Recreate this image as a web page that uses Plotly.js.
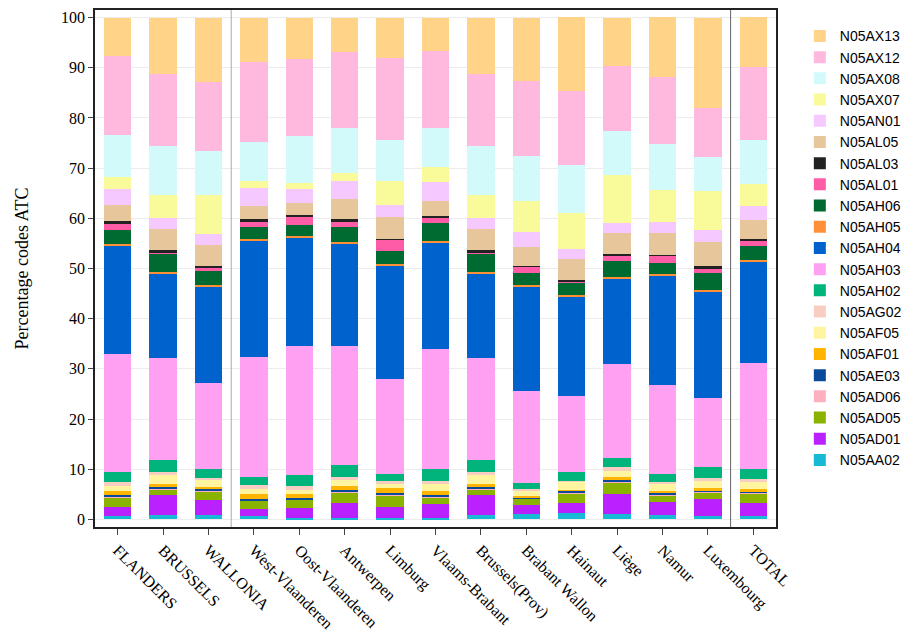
<!DOCTYPE html>
<html>
<head>
<meta charset="utf-8">
<script src="https://cdn.plot.ly/plotly-3.0.1.min.js"></script>
<style>body{margin:0;background:#fff}</style>
</head>
<body>
<div id="chart" style="width:917px;height:642px"></div>
<script>
var regions = ['FLANDERS','BRUSSELS','WALLONIA','West-Vlaanderen','Oost-Vlaanderen','Antwerpen','Limburg',
  'Vlaams-Brabant','Brussels(Prov)','Brabant Wallon','Hainaut','Liège','Namur','Luxembourg','TOTAL'];

// percentages per ATC code, bottom of the stack first
var N05AA02 = [0.6,0.8,0.9,0.6,0.3,0.3,0.3,0.3,0.8,1.0,1.2,1.0,0.8,0.6,0.6];
var N05AD01 = [1.9,4.0,2.9,1.4,2.0,3.0,2.2,2.8,4.0,1.8,2.0,4.0,2.6,3.4,2.6];
var N05AD05 = [1.8,1.2,1.8,1.7,1.6,2.1,2.3,1.3,1.2,1.3,2.0,2.4,1.4,1.4,2.0];
var N05AD06 = [0.1,0.1,0.1,0.1,0.1,0.1,0.2,0.1,0.1,0.1,0.1,0.1,0.1,0.1,0.1];
var N05AE03 = [0.4,0.3,0.4,0.2,0.2,0.3,0.3,0.4,0.3,0.2,0.4,0.3,0.3,0.2,0.2];
var N05AF01 = [0.8,0.6,0.4,1.0,0.8,0.8,1.0,0.7,0.6,0.3,0.2,0.6,0.5,0.6,0.6];
var N05AF05 = [1.0,1.8,1.4,1.0,0.8,1.2,0.8,1.4,1.8,1.1,1.6,1.2,1.4,1.4,1.4];
var N05AG02 = [0.8,0.6,0.4,0.8,0.8,0.6,0.6,0.6,0.6,0.3,0.2,0.8,0.4,0.6,0.6];
var N05AH02 = [2.0,2.4,1.8,1.6,2.2,2.4,1.4,2.4,2.4,1.2,1.8,1.8,1.6,2.2,2.0];
var N05AH03 = [23.5,20.4,17.0,24.0,25.7,23.7,18.8,24.0,20.4,18.3,15.1,18.7,17.6,13.7,21.0];
var N05AH04 = [21.6,16.7,19.3,23.1,21.5,20.4,22.5,21.1,16.7,20.8,19.7,17.1,21.8,21.1,20.2];
var N05AH05 = [0.4,0.4,0.4,0.4,0.4,0.4,0.4,0.4,0.4,0.4,0.4,0.4,0.4,0.4,0.4];
var N05AH06 = [2.7,3.7,2.8,2.3,2.3,3.0,2.6,3.5,3.7,2.4,2.4,3.1,2.2,3.5,2.7];
var N05AL01 = [1.45,0.25,0.6,1.25,1.65,1.15,2.3,1.15,0.25,1.1,0.4,1.1,1.4,0.8,1.15];
var N05AL03 = [0.35,0.35,0.3,0.35,0.35,0.35,0.2,0.35,0.35,0.2,0.3,0.2,0.2,0.4,0.35];
var N05AL05 = [3.3,4.2,4.2,2.7,2.3,4.0,4.4,3.0,4.2,3.8,4.0,4.2,4.4,4.9,3.7];
var N05AN01 = [3.2,2.2,2.1,3.5,2.9,3.7,2.3,3.7,2.2,2.9,2.1,2.0,2.2,2.4,2.8];
var N05AX07 = [2.4,4.7,7.8,1.5,1.1,1.5,4.8,3.1,4.7,6.2,7.2,9.7,6.3,7.7,4.4];
var N05AX08 = [8.2,9.8,8.9,7.8,9.4,9.0,8.2,7.7,9.8,9.0,9.6,8.6,9.2,6.8,8.8];
var N05AX12 = [15.8,14.2,13.7,15.9,15.4,15.2,16.4,15.3,14.2,15.0,14.6,13.1,13.3,9.7,14.6];
var N05AX13 = [7.7,11.3,12.8,8.8,8.2,6.8,8.0,6.7,11.3,12.5,14.8,9.6,12.0,18.0,10.0];

var series = [
  ['N05AA02', N05AA02, '#17b9d4'],
  ['N05AD01', N05AD01, '#b922ff'],
  ['N05AD05', N05AD05, '#8ab300'],
  ['N05AD06', N05AD06, '#ffb0c0'],
  ['N05AE03', N05AE03, '#0b4a9a'],
  ['N05AF01', N05AF01, '#ffb400'],
  ['N05AF05', N05AF05, '#fff4a0'],
  ['N05AG02', N05AG02, '#f8cdc2'],
  ['N05AH02', N05AH02, '#00b47c'],
  ['N05AH03', N05AH03, '#ffa0f2'],
  ['N05AH04', N05AH04, '#0062cc'],
  ['N05AH05', N05AH05, '#ff9038'],
  ['N05AH06', N05AH06, '#006b31'],
  ['N05AL01', N05AL01, '#ff5ca8'],
  ['N05AL03', N05AL03, '#222222'],
  ['N05AL05', N05AL05, '#e8c69b'],
  ['N05AN01', N05AN01, '#f5c8ff'],
  ['N05AX07', N05AX07, '#f9fa9a'],
  ['N05AX08', N05AX08, '#d3fafa'],
  ['N05AX12', N05AX12, '#ffb9de'],
  ['N05AX13', N05AX13, '#ffd488']
];

var traces = series.map(function (s) {
  return {
    type: 'bar',
    name: s[0],
    x: regions,
    y: s[1],
    marker: {color: s[2], line: {width: 0}},
    hoverinfo: 'name+y'
  };
});

var layout = {
  barmode: 'stack',
  bargap: 0.4,
  width: 917,
  height: 642,
  paper_bgcolor: '#fff',
  plot_bgcolor: '#fff',
  font: {family: 'Liberation Serif, DejaVu Serif, serif', size: 15, color: '#000'},
  margin: {l: 95, r: 118, t: 10, b: 115},
  showlegend: true,
  legend: {
    x: 1.035, xanchor: 'left', y: 0.98, yanchor: 'top',
    traceorder: 'reversed',
    font: {family: 'Liberation Sans, Arial, sans-serif', size: 14},
    itemwidth: 30,
    tracegroupgap: 0
  },
  xaxis: {
    tickangle: 45,
    ticks: 'outside',
    ticklen: 6,
    showline: true, mirror: true, linecolor: '#222', linewidth: 1.5,
    tickfont: {size: 16}
  },
  yaxis: {
    range: [-1.5, 101.5],
    dtick: 10,
    ticks: 'outside',
    ticklen: 5,
    showgrid: true, gridcolor: '#ececec',
    zeroline: false,
    showline: true, mirror: true, linecolor: '#222', linewidth: 1.5,
    title: {text: 'Percentage codes ATC', font: {size: 18}, standoff: 28},
    tickfont: {size: 16}
  },
  shapes: [
    {type: 'line', xref: 'x', yref: 'paper', x0: 2.5, x1: 2.5, y0: 0, y1: 1, line: {color: '#aaa', width: 1}},
    {type: 'line', xref: 'x', yref: 'paper', x0: 13.5, x1: 13.5, y0: 0, y1: 1, line: {color: '#666', width: 1}}
  ]
};

Plotly.newPlot('chart', traces, layout, {displayModeBar: false});
</script>
</body>
</html>
